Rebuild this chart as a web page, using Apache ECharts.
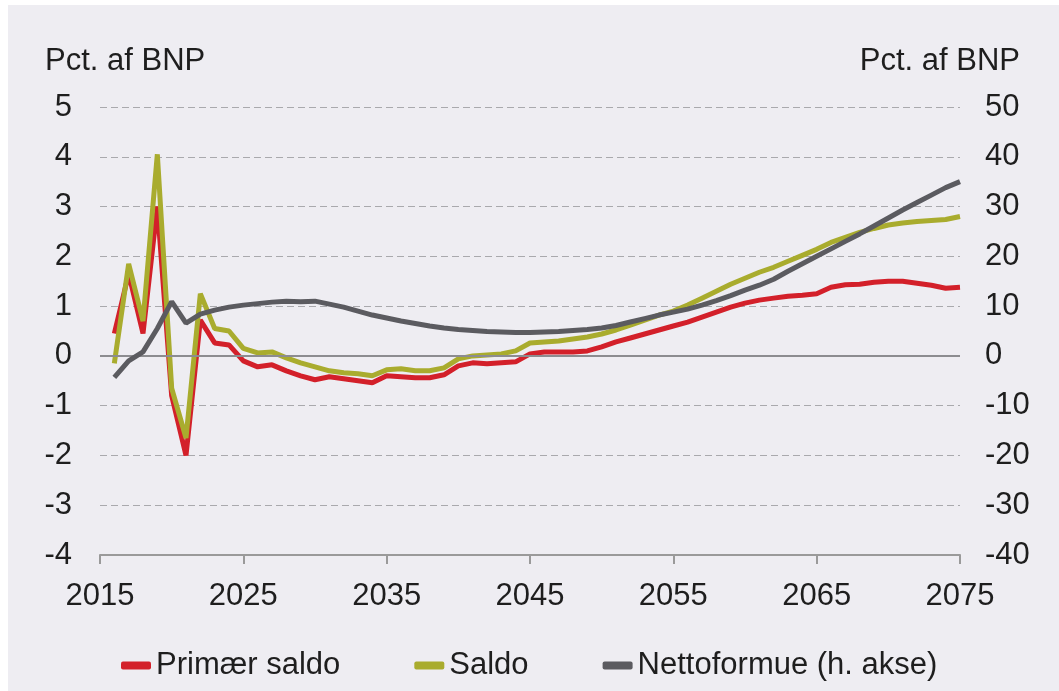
<!DOCTYPE html>
<html>
<head>
<meta charset="utf-8">
<title>Saldo og nettoformue</title>
<script src="https://cdn.jsdelivr.net/npm/echarts@6/dist/echarts.min.js"></script>
<style>
  html, body { margin: 0; padding: 0; background: #ffffff; }
  #chart { position: absolute; left: 8px; top: 5px; width: 1051px; height: 686px; }
</style>
</head>
<body>
<div id="chart"></div>
<script>
// aar (x-akse)
var years = [2016, 2017, 2018, 2019, 2020, 2021, 2022, 2023, 2024, 2025,
    2026, 2027, 2028, 2029, 2030, 2031, 2032, 2033, 2034, 2035,
    2036, 2037, 2038, 2039, 2040, 2041, 2042, 2043, 2044, 2045,
    2046, 2047, 2048, 2049, 2050, 2051, 2052, 2053, 2054, 2055,
    2056, 2057, 2058, 2059, 2060, 2061, 2062, 2063, 2064, 2065,
    2066, 2067, 2068, 2069, 2070, 2071, 2072, 2073, 2074, 2075];

// Primær saldo, pct. af BNP (venstre akse)
var primaerSaldo = [0.45, 1.65, 0.45, 3.0, -0.8, -2.0, 0.72, 0.26, 0.22, -0.1,
    -0.22, -0.18, -0.3, -0.4, -0.48, -0.42, -0.46, -0.5, -0.54, -0.4,
    -0.42, -0.44, -0.44, -0.38, -0.2, -0.14, -0.16, -0.14, -0.12, 0.04,
    0.08, 0.08, 0.08, 0.1, 0.18, 0.28, 0.36, 0.44, 0.52, 0.6,
    0.68, 0.78, 0.88, 0.98, 1.06, 1.12, 1.16, 1.2, 1.22, 1.25,
    1.38, 1.43, 1.44, 1.48, 1.5, 1.5, 1.46, 1.42, 1.36, 1.38];

// Saldo, pct. af BNP (venstre akse)
var saldo = [-0.15, 1.85, 0.7, 4.05, -0.65, -1.65, 1.25, 0.55, 0.5, 0.15,
    0.06, 0.08, -0.04, -0.14, -0.22, -0.3, -0.34, -0.36, -0.4, -0.28,
    -0.26, -0.3, -0.3, -0.24, -0.06, 0.0, 0.02, 0.04, 0.1, 0.26,
    0.28, 0.3, 0.34, 0.38, 0.44, 0.52, 0.62, 0.72, 0.82, 0.9,
    1.02, 1.16, 1.3, 1.44, 1.56, 1.68, 1.78, 1.9, 2.02, 2.14,
    2.28, 2.38, 2.48, 2.56, 2.63, 2.67, 2.7, 2.72, 2.74, 2.8];

// Nettoformue, pct. af BNP (hoejre akse)
var nettoformue = [-4.3, -1.0, 0.8, 5.5, 10.9, 6.6, 8.4, 9.2, 9.8, 10.2,
    10.5, 10.8, 11.0, 10.9, 11.0, 10.4, 9.8, 9.0, 8.2, 7.6,
    7.0, 6.5, 6.0, 5.6, 5.3, 5.1, 4.9, 4.8, 4.7, 4.7,
    4.8, 4.9, 5.1, 5.3, 5.6, 6.1, 6.8, 7.5, 8.2, 8.8,
    9.4, 10.2, 11.1, 12.1, 13.2, 14.2, 15.4, 17.0, 18.5, 20.0,
    21.5, 23.0, 24.5, 26.1, 27.7, 29.3, 30.8, 32.3, 33.8, 35.0];

var seriesNames = ['Primær saldo', 'Saldo', 'Nettoformue (h. akse)'];
var axisTitle = 'Pct. af BNP';

function pairs(vals) {
    var out = [];
    for (var i = 0; i < years.length; i++) {
        out.push([years[i], vals[i]]);
    }
    return out;
}

var font = "'Liberation Sans', Arial, sans-serif";
var fs = 31;
var textColor = '#1e1e1e';

var chart = echarts.init(document.getElementById('chart'), null, { renderer: 'canvas' });

var option = {
    backgroundColor: '#eeedf2',
    animation: false,
    textStyle: { fontFamily: font },
    grid: { left: 92, right: 99, top: 102, bottom: 136 },
    graphic: [
        { type: 'text', left: 37, top: 41, style: { text: axisTitle, font: fs + 'px ' + font, fill: textColor } },
        { type: 'text', right: 39, top: 41, style: { text: axisTitle, font: fs + 'px ' + font, fill: textColor } }
    ],
    legend: {
        left: 108,
        top: 640,
        itemWidth: 30,
        itemHeight: 8,
        itemGap: 74,
        icon: 'roundRect',
        textStyle: { fontSize: fs, color: textColor, fontFamily: font },
        data: seriesNames
    },
    xAxis: {
        type: 'value',
        min: 2015,
        max: 2075,
        interval: 10,
        axisLine: { show: true, onZero: false, lineStyle: { color: '#9a9a9a', width: 2 } },
        axisTick: { show: true, inside: false, length: 9, lineStyle: { color: '#9a9a9a', width: 2 } },
        axisLabel: {
            fontSize: fs, color: textColor, margin: 26, fontFamily: font,
            formatter: function (v) { return String(v); }
        },
        splitLine: { show: false }
    },
    yAxis: [
        {
            type: 'value',
            min: -4,
            max: 5,
            interval: 1,
            axisLine: { show: false },
            axisTick: { show: false },
            axisLabel: { fontSize: fs, color: textColor, margin: 28, fontFamily: font },
            splitLine: { show: true, lineStyle: { color: '#a9a9ad', type: [7, 4], width: 1 } }
        },
        {
            type: 'value',
            min: -40,
            max: 50,
            interval: 10,
            axisLine: { show: false },
            axisTick: { show: false },
            axisLabel: { fontSize: fs, color: textColor, margin: 25, fontFamily: font },
            splitLine: { show: false }
        }
    ],
    series: [
        {
            name: seriesNames[0],
            type: 'line',
            yAxisIndex: 0,
            data: pairs(primaerSaldo),
            showSymbol: false,
            color: '#d3202a',
            lineStyle: { width: 5, color: '#d3202a' },
            z: 3,
            markLine: {
                silent: true,
                symbol: 'none',
                label: { show: false },
                lineStyle: { color: '#8c8c90', type: 'solid', width: 2 },
                data: [{ yAxis: 0 }]
            }
        },
        {
            name: seriesNames[1],
            type: 'line',
            yAxisIndex: 0,
            data: pairs(saldo),
            showSymbol: false,
            color: '#a9ac2e',
            lineStyle: { width: 5, color: '#a9ac2e' },
            z: 4
        },
        {
            name: seriesNames[2],
            type: 'line',
            yAxisIndex: 1,
            data: pairs(nettoformue),
            showSymbol: false,
            color: '#5b5b60',
            lineStyle: { width: 5, color: '#5b5b60' },
            z: 5
        }
    ]
};

chart.setOption(option);
</script>
</body>
</html>
